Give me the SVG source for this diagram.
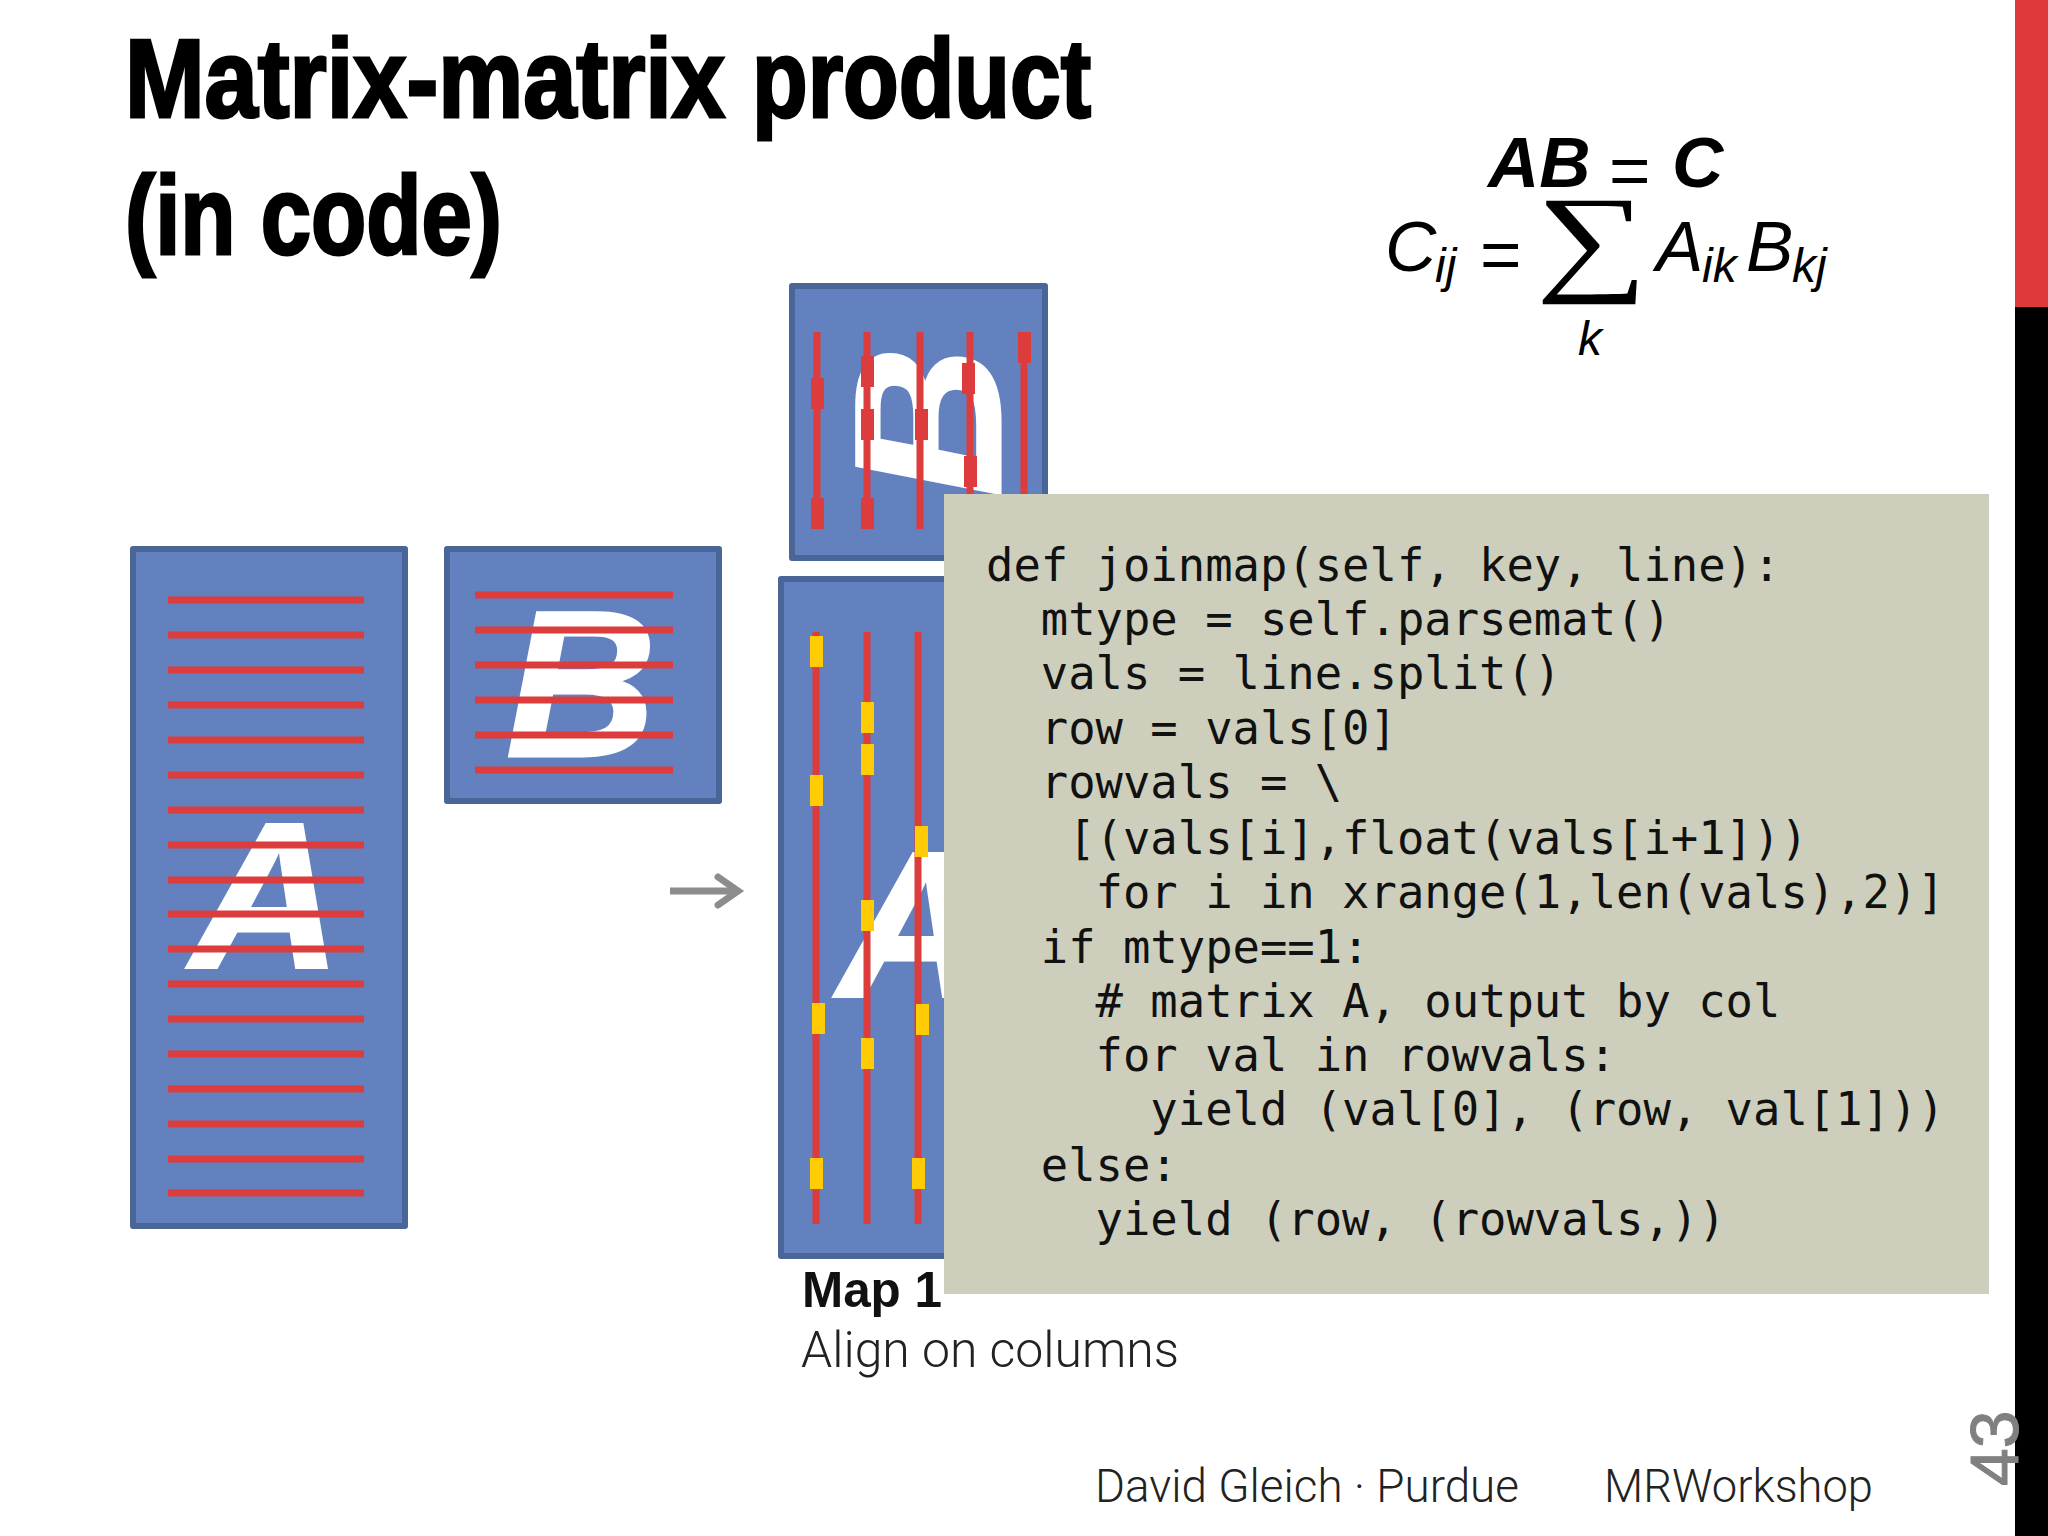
<svg xmlns="http://www.w3.org/2000/svg" width="2048" height="1536" viewBox="0 0 2048 1536">
<style>
.m{fill:#6281be;stroke:#4a6699;stroke-width:6;stroke-linejoin:round}
.r{stroke:#dc3c3c;stroke-width:7;fill:none}
.rt{fill:#dc3c3c}
.y{fill:#ffcb05}
.L{font-family:"Liberation Sans",Arial,sans-serif;font-weight:bold;font-style:italic;font-size:208px;fill:#fff;stroke:#fff;stroke-width:3}
.t{font-family:"Liberation Sans",Arial,sans-serif;font-weight:bold;font-size:112px;fill:#000;stroke:#000;stroke-width:3}
.c{font-family:"DejaVu Sans Mono",monospace;font-size:45.5px;fill:#111;white-space:pre}
.f{font-family:"Liberation Sans",Arial,sans-serif;fill:#000}
.fi{font-style:italic;font-size:71px}
.fs{font-style:italic;font-size:48px}
.fo{font-family:Roboto,"Liberation Sans",sans-serif;font-weight:300;font-size:47px;fill:#222}
</style>
<rect width="2048" height="1536" fill="#fff"/>
<g id="title">
<text class="t" x="125" y="117" textLength="600" lengthAdjust="spacingAndGlyphs">Matrix-matrix</text>
<text class="t" x="752" y="117" textLength="339" lengthAdjust="spacingAndGlyphs">product</text>
<text class="t" x="125" y="254" textLength="377" lengthAdjust="spacingAndGlyphs">(in code)</text>
</g>
<g id="sidebar">
<rect x="2015" y="0" width="33" height="307" fill="#e0393a"/>
<rect x="2015" y="307" width="33" height="1229" fill="#000"/>
</g>
<g id="formula">
<text class="f fi" x="1488" y="187" font-weight="bold">AB</text>
<text class="f" x="1609" y="195" font-size="71">=</text>
<text class="f fi" x="1672" y="187" font-weight="bold">C</text>
<text class="f fi" x="1385" y="271">C</text>
<text class="f fs" x="1435" y="282">ij</text>
<text class="f" x="1480" y="279" font-size="71">=</text>
<text class="f" font-size="120" transform="translate(1536 279) scale(1.31 1)" style="font-family:'Liberation Serif',serif">∑</text>
<text class="f fs" x="1578" y="355">k</text>
<text class="f fi" x="1656" y="271">A</text>
<text class="f fs" x="1702" y="282">ik</text>
<text class="f fi" x="1746" y="271">B</text>
<text class="f fs" x="1792" y="282">kj</text>
</g>
<g id="matrix-a">
<rect class="m" x="133" y="549" width="272" height="677"/>
<text class="L" x="191" y="968">A</text>
<path class="r" d="M168 600H364M168 635H364M168 670H364M168 705H364M168 740H364M168 775H364M168 810H364M168 845H364M168 880H364M168 914H364M168 949H364M168 984H364M168 1019H364M168 1054H364M168 1089H364M168 1124H364M168 1159H364M168 1193H364"/>
</g>
<g id="matrix-b">
<rect class="m" x="447" y="549" width="272" height="252"/>
<text class="L" x="506" y="756">B</text>
<path class="r" d="M475 595H673M475 630H673M475 665H673M475 700H673M475 735H673M475 770H673"/>
</g>
<g id="connectors">
<path d="M670 891H737" fill="none" stroke="#8c8c8c" stroke-width="7"/>
<path d="M718 877L738 891L718 905" fill="none" stroke="#8c8c8c" stroke-width="7" stroke-linecap="round"/>
</g>
<g id="map-b">
<rect class="m" x="792" y="286" width="253" height="272"/>
<text class="L" transform="translate(1000 497) rotate(-90)">B</text>
<path class="r" d="M817 332V529M867 332V529M920 332V529M970 332V529M1024 332V529"/>
<g class="rt">
<rect x="811" y="378" width="13" height="31"/><rect x="811" y="498" width="13" height="31"/>
<rect x="861" y="356" width="13" height="31"/><rect x="861" y="409" width="13" height="31"/><rect x="861" y="498" width="13" height="31"/>
<rect x="915" y="409" width="13" height="31"/>
<rect x="962" y="363" width="13" height="31"/><rect x="964" y="456" width="13" height="31"/>
<rect x="1018" y="332" width="13" height="31"/>
</g>
</g>
<g id="map-a">
<rect class="m" x="781" y="579" width="260" height="677"/>
<text class="L" x="838" y="997">A</text>
<path class="r" stroke="#cf403f" d="M816 632V1224M867 632V1224M918 632V1224"/>
<g class="y">
<rect x="810" y="636" width="13" height="31"/><rect x="810" y="775" width="13" height="31"/><rect x="812" y="1003" width="13" height="31"/><rect x="810" y="1158" width="13" height="31"/>
<rect x="861" y="702" width="13" height="31"/><rect x="861" y="744" width="13" height="31"/><rect x="861" y="900" width="13" height="31"/><rect x="861" y="1038" width="13" height="31"/>
<rect x="915" y="826" width="13" height="31"/><rect x="916" y="1004" width="13" height="31"/><rect x="912" y="1158" width="13" height="31"/>
</g>
</g>
<g id="map-label">
<text x="802" y="1307" font-family="Liberation Sans,Arial,sans-serif" font-weight="bold" font-size="50" fill="#111" textLength="140" lengthAdjust="spacingAndGlyphs">Map 1</text>
<text x="801" y="1367" font-family="Roboto,sans-serif" font-weight="300" font-size="50" fill="#222" textLength="378" lengthAdjust="spacingAndGlyphs">Align on columns</text>
</g>
<g id="code">
<rect x="944" y="494" width="1045" height="800" fill="#cdcfbc"/>
<text class="c" x="986" y="581">def joinmap(self, key, line):</text>
<text class="c" x="986" y="635">  mtype = self.parsemat()</text>
<text class="c" x="986" y="689">  vals = line.split()</text>
<text class="c" x="986" y="743.5">  row = vals[0]</text>
<text class="c" x="986" y="798">  rowvals = \</text>
<text class="c" x="986" y="853.5">   [(vals[i],float(vals[i+1]))</text>
<text class="c" x="986" y="908">    for i in xrange(1,len(vals),2)]</text>
<text class="c" x="986" y="962.5">  if mtype==1:</text>
<text class="c" x="986" y="1017">    # matrix A, output by col</text>
<text class="c" x="986" y="1070.5">    for val in rowvals:</text>
<text class="c" x="986" y="1125">      yield (val[0], (row, val[1]))</text>
<text class="c" x="986" y="1180.5">  else:</text>
<text class="c" x="986" y="1235">    yield (row, (rowvals,))</text>
</g>
<g id="footer">
<text class="fo" x="1095" y="1502" textLength="424" lengthAdjust="spacingAndGlyphs">David Gleich · Purdue</text>
<text class="fo" x="1604" y="1502" textLength="269" lengthAdjust="spacingAndGlyphs">MRWorkshop</text>
<text transform="translate(2018 1486) rotate(-90)" font-family="Liberation Sans,Arial,sans-serif" font-size="68" fill="#808080" stroke="#808080" stroke-width="1">43</text>
</g>
</svg>
